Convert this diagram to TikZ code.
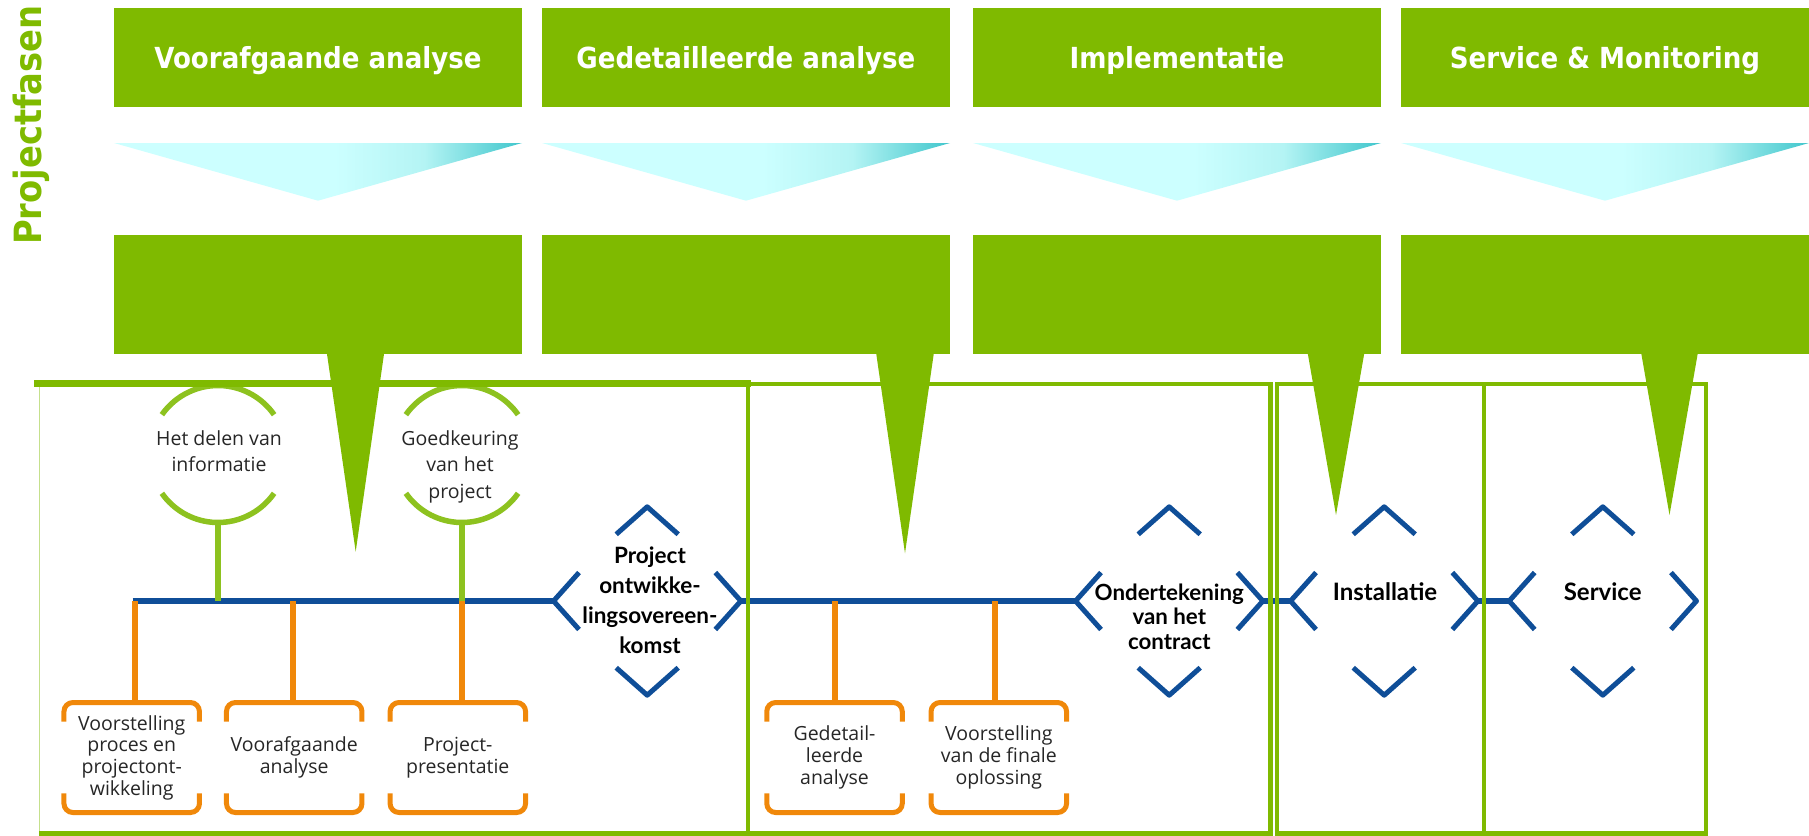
\documentclass[tikz,border=0pt]{standalone}
\usepackage{fontspec}
\setmainfont{Open Sans}
\newfontfamily\titlefont{DejaVu Sans Condensed}
\newfontfamily\labfont{Lato}
\usetikzlibrary{calc}
\definecolor{pgreen}{HTML}{7FBA00}
\definecolor{lgreen}{HTML}{8DC21F}
\definecolor{tblue}{HTML}{0F4E98}
\definecolor{torange}{HTML}{F0880A}
\definecolor{cyanL}{HTML}{CCFFFF}
\definecolor{cyanM}{HTML}{B4F4F4}
\definecolor{cyanD}{HTML}{40C6CC}
\definecolor{txt}{HTML}{262626}
\pgfdeclarehorizontalshading{cyanfade}{100bp}{color(0bp)=(cyanL); color(52bp)=(cyanL); color(63bp)=(cyanM); color(75bp)=(cyanD); color(100bp)=(cyanD)}
\newcommand\drawchevrons[1]{%
  \draw[chevline] ($(#1.north)+(-31,27.5)$) -- (#1.north) -- ($(#1.north)+(31,27.5)$);
  \draw[chevline] ($(#1.south)+(-31,-27.5)$) -- (#1.south) -- ($(#1.south)+(31,-27.5)$);
  \draw[chevline] ($(#1.west)+(25.5,-28.5)$) -- (#1.west) -- ($(#1.west)+(25.5,28.5)$);
  \draw[chevline] ($(#1.east)+(-25.5,-28.5)$) -- (#1.east) -- ($(#1.east)+(-25.5,28.5)$);}
\newcommand\drawbrackets[1]{%
  \draw[obr] ($(#1.north west)+(0,19.2)$) -- (#1.north west) -- (#1.north east) -- ($(#1.north east)+(0,19.2)$);
  \draw[obr] ($(#1.south west)+(0,-19.2)$) -- (#1.south west) -- (#1.south east) -- ($(#1.south east)+(0,-19.2)$);}
\begin{document}
\begin{tikzpicture}[x=1pt,y=-1pt,
  topbox/.style={fill=pgreen, minimum width=408pt, minimum height=99pt, inner sep=0pt, outer sep=0pt,
    text=white, font=\titlefont\bfseries\fontsize{29}{31}\selectfont, text height=21.1pt, text depth=0pt},
  lowbox/.style={fill=pgreen, minimum width=408pt, minimum height=118.7pt, inner sep=0pt, outer sep=0pt},
  spike/.style={fill=pgreen},
  frame/.style={draw=pgreen, line width=4.5pt},
  tline/.style={draw=tblue, line width=5.5pt},
  chev/.style={minimum width=187.3pt, minimum height=188.4pt, inner sep=0pt, outer sep=0pt},
  chevline/.style={draw=tblue, line width=5pt, line join=round},
  clab/.style={align=center, text=black, inner sep=0pt},
  obox/.style={minimum width=135.5pt, minimum height=110pt, inner sep=0pt, outer sep=0pt, align=center,
    text=txt, font=\fontsize{19.5}{21.7}\selectfont},
  obr/.style={draw=torange, line width=5pt, rounded corners=9pt},
  ostem/.style={draw=torange, line width=6pt},
  circ/.style={circle, minimum size=137pt, inner sep=0pt, outer sep=0pt},
  garc/.style={draw=lgreen, line width=5.5pt},
  gstem/.style={draw=lgreen, line width=6pt},
  ctext/.style={align=center, text=txt, inner sep=0pt, font=\fontsize{19.5}{26.5}\selectfont}
]
\useasboundingbox (0,0) rectangle (1809,835);

% side title
\node[rotate=90, text=pgreen, inner sep=0pt, font=\titlefont\bfseries\fontsize{37.5}{40}\selectfont,
  text height=27.3pt, text depth=0pt] (pf) at (28,125) {Projectfasen};

% phase headers
\node[topbox] (tb1) at (318,57.5) {Voorafgaande analyse};
\node[topbox] (tb2) at (746,57.5) {Gedetailleerde analyse};
\node[topbox] (tb3) at (1177,57.5) {Implementatie};
\node[topbox] (tb4) at (1605,57.5) {Service \& Monitoring};

% cyan triangles
\shade[shading=cyanfade] (114,143) -- (522,143) -- (318,200.7) -- cycle;
\shade[shading=cyanfade] (542,143) -- (950,143) -- (746,200.7) -- cycle;
\shade[shading=cyanfade] (973,143) -- (1381,143) -- (1177,200.7) -- cycle;
\shade[shading=cyanfade] (1401,143) -- (1809,143) -- (1605,200.7) -- cycle;

% lower green boxes
\node[lowbox] (lb1) at (318,294.35) {};
\node[lowbox] (lb2) at (746,294.35) {};
\node[lowbox] (lb3) at (1177,294.35) {};
\node[lowbox] (lb4) at (1605,294.35) {};

% circles (green)
\node[circ] (c1) at (218,454) {};
\node[circ] (c2) at (462,454) {};
\draw[garc] ($(c1.center)+(215:68.5)$) arc[start angle=215, end angle=325, radius=68.5];
\draw[garc] ($(c1.center)+(35:68.5)$) arc[start angle=35, end angle=145, radius=68.5];
\draw[garc] ($(c2.center)+(215:68.5)$) arc[start angle=215, end angle=325, radius=68.5];
\draw[garc] ($(c2.center)+(35:68.5)$) arc[start angle=35, end angle=145, radius=68.5];
\node[ctext] (ct1) at (219,451) {Het delen van\\informatie};
\node[ctext] (ct2) at (460,466.7) {Goedkeuring\\van het\\project};

% chevron groups
\node[chev] (g1) at (647.2,601) {};
\node[chev] (g2) at (1169.2,601) {};
\node[chev] (g3) at (1384.2,601) {};
\node[chev] (g4) at (1602.8,601) {};
\drawchevrons{g1}
\drawchevrons{g2}
\drawchevrons{g3}
\drawchevrons{g4}
\node[clab, font=\labfont\bfseries\fontsize{22.5}{30}\selectfont] (t1) at (650,600) {Project\\ontwikke-\\lingsovereen-\\komst};
\node[clab, font=\labfont\bfseries\fontsize{22.3}{24.3}\selectfont] (t2) at (1169.3,616.7) {Ondertekening\\van het\\contract};
\node[clab, font=\labfont\bfseries\fontsize{24}{26}\selectfont] (t3) at (1385,591.5) {Installatie};
\node[clab, font=\labfont\bfseries\fontsize{24}{26}\selectfont] (t4) at (1602.7,591.5) {Service};

% timeline
\coordinate (tl0) at (132.5,601);
\draw[tline] (tl0) -- (g1.west);
\draw[tline] (g1.east) -- (g2.west);
\draw[tline] (g2.east) -- (g3.west);
\draw[tline] (g3.east) -- (g4.west);

% green stems
\draw[gstem] (c1.south) -- (c1.south |- tl0);
\draw[gstem] (c2.south) -- (c2.south |- tl0);

% orange boxes
\node[obox] (b1) at (131.7,757.5) {Voorstelling\\proces en\\projectont-\\wikkeling};
\node[obox] (b2) at (294.2,757.5) {Voorafgaande\\analyse};
\node[obox] (b3) at (457.8,757.5) {Project-\\presentatie};
\node[obox] (b4) at (834.5,757.5) {Gedetail-\\leerde\\analyse};
\node[obox] (b5) at (998.8,757.5) {Voorstelling\\van de finale\\oplossing};
\drawbrackets{b1}
\drawbrackets{b2}
\drawbrackets{b3}
\drawbrackets{b4}
\drawbrackets{b5}
\coordinate (s1) at (135,601);
\coordinate (s2) at (293.3,601);
\coordinate (s3) at (462,601);
\coordinate (s4) at (835,601);
\coordinate (s5) at (995,601);
\draw[ostem] (s1) -- (s1 |- b1.north);
\draw[ostem] (s2) -- (s2 |- b2.north);
\draw[ostem] (s3) -- (s3 |- b3.north);
\draw[ostem] (s4) -- (s4 |- b4.north);
\draw[ostem] (s5) -- (s5 |- b5.north);

% panel frames
\draw[pgreen!45, line width=1pt] (39.3,385) -- (39.3,835);
\draw[frame] (39.3,833.5) -- (748,833.5) -- (748,383.3);
\draw[pgreen, line width=6.7pt] (34,383.3) -- (751,383.3);
\draw[frame] (748,384) rectangle (1270.5,833.5);
\draw[frame] (1277.2,384) rectangle (1484.2,833.5);
\draw[frame] (1484.2,384) rectangle (1705.8,833.5);

% spikes
\fill[spike] (326.7,352) -- (384.3,352) -- (355.7,551.7) -- cycle;
\fill[spike] (876,352) -- (934,352) -- (905,553.3) -- cycle;
\fill[spike] (1307.5,352) -- (1364.5,352) -- (1336,515) -- cycle;
\fill[spike] (1641,352) -- (1698,352) -- (1669.5,515) -- cycle;
\end{tikzpicture}
\end{document}
